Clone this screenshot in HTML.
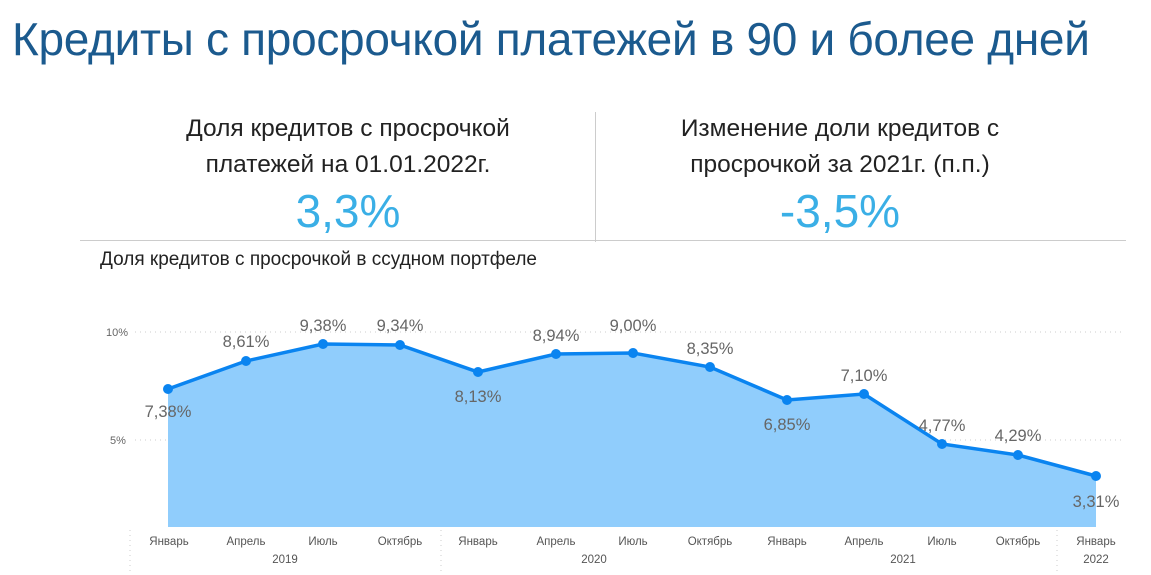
<!DOCTYPE html>
<html><head><meta charset="utf-8"><style>
body{margin:0;width:1151px;height:575px;background:#fff;overflow:hidden;font-family:"Liberation Sans","DejaVu Sans",sans-serif;position:relative}
.a{position:absolute;white-space:nowrap}
</style></head><body>
<div class="a" style="left:12px;top:12px;font-size:46px;color:#1b5a8e;letter-spacing:-0.3px">Кредиты с просрочкой платежей в 90 и более дней</div>
<div class="a" style="left:118px;top:111px;width:460px;text-align:center;font-size:24.5px;line-height:36px;color:#222">Доля кредитов с просрочкой<br>платежей на 01.01.2022г.</div>
<div class="a" style="left:118px;top:184px;width:460px;text-align:center;font-size:46px;color:#3aafe6">3,3%</div>
<div class="a" style="left:605px;top:111px;width:470px;text-align:center;font-size:24.5px;line-height:36px;color:#222">Изменение доли кредитов с<br>просрочкой за 2021г. (п.п.)</div>
<div class="a" style="left:605px;top:184px;width:470px;text-align:center;font-size:46px;color:#3aafe6">-3,5%</div>
<div class="a" style="left:595px;top:112px;width:1px;height:130px;background:#ccc"></div>
<div class="a" style="left:80px;top:240px;width:1046px;height:1px;background:#ccc"></div>
<div class="a" style="left:100px;top:249px;font-size:19px;color:#222">Доля кредитов с просрочкой в ссудном портфеле</div>
<svg class="a" style="left:0;top:0" width="1151" height="575" font-family="Liberation Sans, DejaVu Sans, sans-serif">
<g stroke="#ccc" stroke-dasharray="1,4"><line x1="135" y1="332" x2="1125" y2="332"/><line x1="135" y1="440" x2="1125" y2="440"/>
<line x1="130" y1="530" x2="130" y2="575"/><line x1="441" y1="530" x2="441" y2="575"/><line x1="1057" y1="530" x2="1057" y2="575"/></g>
<g font-size="11" fill="#666"><text x="106" y="336">10%</text><text x="110" y="444">5%</text></g>
<polygon fill="#90cdfc" points="168,527 168,389 246,361 323,344 400,345 478,372 556,354 633,353 710,367 787,400 864,394 942,444 1018,455 1096,476 1096,527"/>
<polyline fill="none" stroke="#0a84f0" stroke-width="3.5" points="168,389 246,361 323,344 400,345 478,372 556,354 633,353 710,367 787,400 864,394 942,444 1018,455 1096,476"/>
<g fill="#0a84f0"><circle cx="168" cy="389" r="5"/><circle cx="246" cy="361" r="5"/><circle cx="323" cy="344" r="5"/><circle cx="400" cy="345" r="5"/><circle cx="478" cy="372" r="5"/><circle cx="556" cy="354" r="5"/><circle cx="633" cy="353" r="5"/><circle cx="710" cy="367" r="5"/><circle cx="787" cy="400" r="5"/><circle cx="864" cy="394" r="5"/><circle cx="942" cy="444" r="5"/><circle cx="1018" cy="455" r="5"/><circle cx="1096" cy="476" r="5"/></g>
<g font-size="16.5" fill="#666" text-anchor="middle">
<text x="168" y="417">7,38%</text><text x="246" y="347">8,61%</text><text x="323" y="331">9,38%</text><text x="400" y="331">9,34%</text><text x="478" y="402">8,13%</text><text x="556" y="341">8,94%</text><text x="633" y="331">9,00%</text><text x="710" y="354">8,35%</text><text x="787" y="430">6,85%</text><text x="864" y="381">7,10%</text><text x="942" y="431">4,77%</text><text x="1018" y="441">4,29%</text><text x="1096" y="507">3,31%</text></g>
<g font-size="11.5" fill="#555" text-anchor="middle">
<text x="169" y="545">Январь</text><text x="246" y="545">Апрель</text><text x="323" y="545">Июль</text><text x="400" y="545">Октябрь</text><text x="478" y="545">Январь</text><text x="556" y="545">Апрель</text><text x="633" y="545">Июль</text><text x="710" y="545">Октябрь</text><text x="787" y="545">Январь</text><text x="864" y="545">Апрель</text><text x="942" y="545">Июль</text><text x="1018" y="545">Октябрь</text><text x="1096" y="545">Январь</text>
<text x="285" y="563">2019</text><text x="594" y="563">2020</text><text x="903" y="563">2021</text><text x="1096" y="563">2022</text></g>
</svg>
</body></html>
